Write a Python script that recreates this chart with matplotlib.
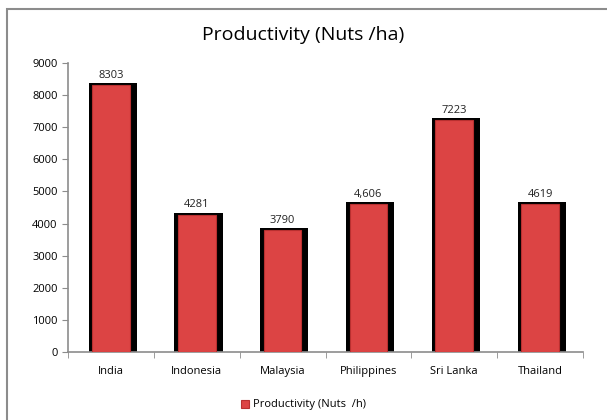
import matplotlib.pyplot as plt
from matplotlib.patches import Rectangle

countries = ['India', 'Indonesia', 'Malaysia', 'Philippines', 'Sri Lanka', 'Thailand']
productivity = [8303, 4281, 3790, 4606, 7223, 4619]
value_labels = ['8303', '4281', '3790', '4,606', '7223', '4619']

plt.rcParams['font.family'] = ['Open Sans', 'DejaVu Sans']

fig = plt.figure(figsize=(6.07, 4.2), dpi=100)
ax = fig.add_axes([68 / 607, 1 - 352 / 420, 515 / 607, 289 / 420])

# gray outer frame of the chart
fig.patches.append(Rectangle((7 / 607, -0.1), 1.2, 1 - 9 / 420 + 0.1, transform=fig.transFigure,
                             fill=False, edgecolor='#8c8c8c', linewidth=1.5, clip_on=False))

x = range(len(countries))
# black shadow behind each bar
ax.bar([i + 0.02 for i in x], [v + 60 for v in productivity], width=0.56, color='black', zorder=2)
bars = ax.bar(x, productivity, width=0.44, color='#dc4444', edgecolor='#b83030',
              linewidth=0.8, zorder=3, label='Productivity (Nuts  /h)')

for i, (v, lab) in enumerate(zip(productivity, value_labels)):
    ax.text(i, v + 130, lab, ha='center', va='bottom', fontsize=8, color='#222222')

ax.set_xlim(-0.5, 5.5)
ax.set_ylim(0, 9000)
ax.set_yticks(range(0, 9001, 1000))
ax.set_xticks(list(x))
ax.set_xticklabels(countries)
ax.set_xticks([i - 0.5 for i in range(7)], minor=True)
ax.tick_params(axis='x', which='major', length=0, pad=10, labelsize=8)
ax.tick_params(axis='x', which='minor', length=4, color='#8c8c8c')
ax.tick_params(axis='y', length=4, color='#8c8c8c', labelsize=8)

for s in ['top', 'right']:
    ax.spines[s].set_visible(False)
for s in ['left', 'bottom']:
    ax.spines[s].set_color('#8c8c8c')
    ax.spines[s].set_linewidth(1.2)

fig.text(0.5, 1 - 35 / 420, 'Productivity (Nuts /ha)', ha='center', va='center', fontsize=14)

fig.legend(handles=[bars], loc='center', bbox_to_anchor=(0.5, 1 - 405 / 420), frameon=False,
           fontsize=8, handlelength=0.7, handleheight=0.7, handletextpad=0.3)

fig.savefig('out.png', dpi=100)
